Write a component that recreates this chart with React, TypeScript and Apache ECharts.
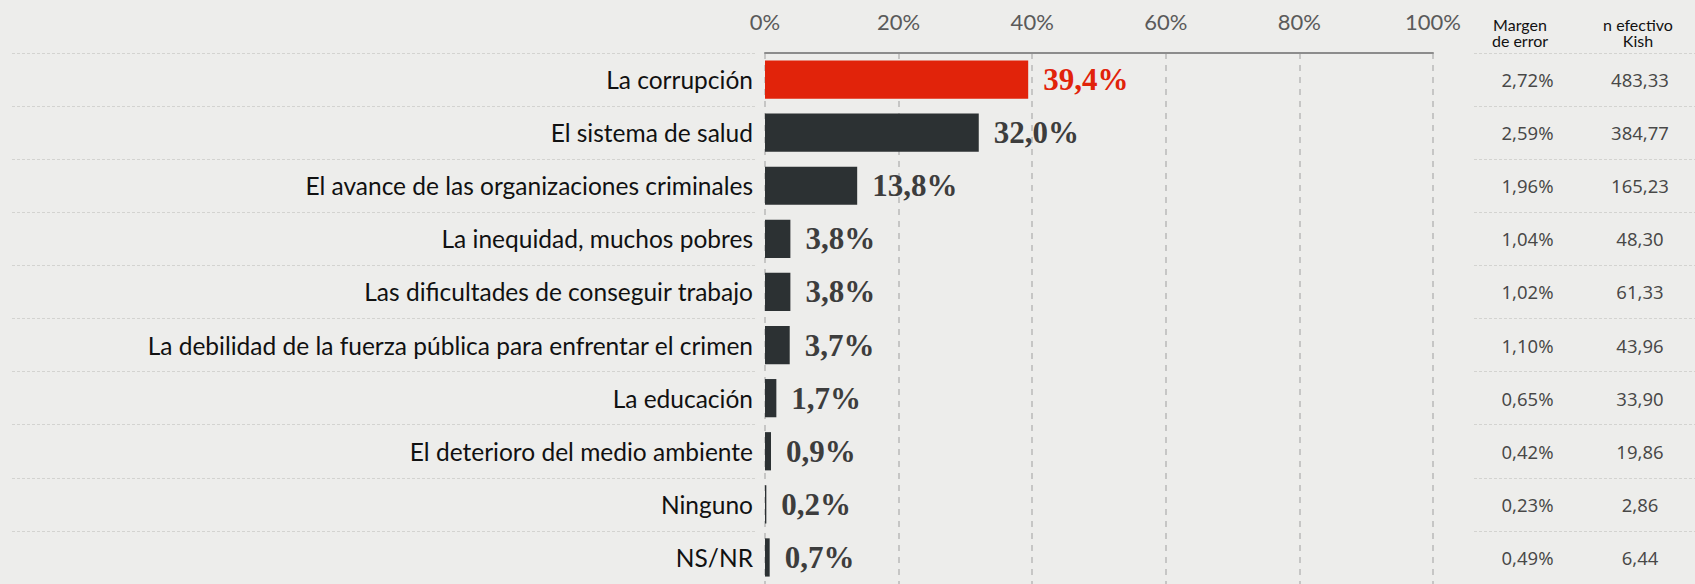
import React, { useEffect, useRef } from "react";
import * as echarts from "echarts";

const categories = [
  "La corrupción",
  "El sistema de salud",
  "El avance de las organizaciones criminales",
  "La inequidad, muchos pobres",
  "Las dificultades de conseguir trabajo",
  "La debilidad de la fuerza pública para enfrentar el crimen",
  "La educación",
  "El deterioro del medio ambiente",
  "Ninguno",
  "NS/NR",
];
const values = [39.4, 32.0, 13.8, 3.8, 3.8, 3.7, 1.7, 0.9, 0.2, 0.7];
const margenError = ["2,72%", "2,59%", "1,96%", "1,04%", "1,02%", "1,10%", "0,65%", "0,42%", "0,23%", "0,49%"];
const nKish = ["483,33", "384,77", "165,23", "48,30", "61,33", "43,96", "33,90", "19,86", "2,86", "6,44"];
const xTicks = [0, 20, 40, 60, 80, 100];
const headerMargen = ["Margen", "de error"];
const headerKish = ["n efectivo", "Kish"];

const RED = "#e1230a";
const DARK = "#2c3133";
const SANS = "Lato, 'Noto Sans', sans-serif";
const SERIF = "'Liberation Serif', 'DejaVu Serif', serif";
const TABLE = "'Noto Sans', 'Open Sans', sans-serif";

export default function App() {
  const ref = useRef<HTMLDivElement>(null);
  useEffect(() => {
    document.body.style.margin = "0";
    const chart = echarts.init(ref.current!, null, { renderer: "svg" });
    const TOP = 53;
    const sepLine = { show: true, lineStyle: { color: "#d3d3d0", type: [3, 2], width: 1 } };
    const hiddenCat = (gridIndex: number) => ({
      type: "category",
      gridIndex,
      inverse: true,
      data: categories,
      axisLine: { show: false },
      axisTick: { show: false },
      axisLabel: { show: false },
      splitLine: sepLine,
    });
    const hiddenVal = (gridIndex: number) => ({
      type: "value",
      gridIndex,
      min: 0,
      max: 1,
      show: false,
      splitLine: { show: false },
    });
    const tableSeries = (gridIndex: number, texts: string[]) => ({
      type: "scatter",
      xAxisIndex: gridIndex,
      yAxisIndex: gridIndex,
      symbolSize: 1,
      itemStyle: { color: "rgba(0,0,0,0)" },
      silent: true,
      data: texts.map((t, i) => ({ value: [0.5, i], name: t })),
      label: {
        show: true,
        position: "inside",
        formatter: (p: any) => p.name,
        color: "#1a1a1a",
        fontSize: 18.5,
        fontFamily: TABLE,
      },
    });
    const headerLines = (x: number, lines: string[]) =>
      lines.map((text, i) => ({
        type: "text",
        x,
        y: 24 + i * 16,
        style: {
          text,
          align: "center",
          verticalAlign: "middle",
          fill: "#111",
          fontSize: 16,
          fontFamily: SANS,
        },
      }));
    chart.setOption({
      animation: false,
      backgroundColor: "#ededeb",
      grid: [
        { left: 765, right: 262, top: TOP, bottom: 0, containLabel: false },
        { left: 12, width: 744, top: TOP, bottom: 0 },
        { left: 1480, width: 95, top: TOP, bottom: 0 },
        { left: 1590, width: 100, top: TOP, bottom: 0 },
        { left: 1474, right: 0, top: TOP, bottom: 0 },
      ],
      xAxis: [
        {
          type: "value",
          gridIndex: 0,
          position: "top",
          min: 0,
          max: 100,
          interval: 20,
          axisLine: { show: true, lineStyle: { color: "#8c8c8c", width: 2 } },
          axisTick: { show: false },
          axisLabel: {
            formatter: (v: number) => (xTicks.includes(v) ? v + "%" : ""),
            color: "#5a5a5a",
            fontSize: 22,
            fontFamily: SANS,
            margin: 21,
          },
          splitLine: { show: true, lineStyle: { color: "#b9b9b9", type: [6, 6], width: 1.5 } },
        },
        hiddenVal(1),
        hiddenVal(2),
        hiddenVal(3),
        hiddenVal(4),
      ],
      yAxis: [
        {
          type: "category",
          gridIndex: 0,
          inverse: true,
          data: categories,
          axisLine: { show: false },
          axisTick: { show: false },
          axisLabel: { color: "#111", fontSize: 24.5, fontFamily: SANS, margin: 12 },
          splitLine: { show: false },
        },
        hiddenCat(1),
        { ...hiddenCat(2), splitLine: { show: false } },
        { ...hiddenCat(3), splitLine: { show: false } },
        hiddenCat(4),
      ],
      graphic: [...headerLines(1520, headerMargen), ...headerLines(1638, headerKish)],
      series: [
        {
          type: "bar",
          xAxisIndex: 0,
          yAxisIndex: 0,
          barCategoryGap: "28%",
          data: values.map((v, i) => ({
            value: v,
            itemStyle: { color: i === 0 ? RED : DARK },
            label: { color: i === 0 ? RED : "#3d3d3d" },
          })),
          label: {
            show: true,
            position: "right",
            distance: 15,
            formatter: (p: any) => p.value.toFixed(1).replace(".", ",") + "%",
            fontSize: 31,
            fontWeight: "bold",
            fontFamily: SERIF,
          },
        },
        tableSeries(2, margenError),
        tableSeries(3, nKish),
      ],
    });
    return () => chart.dispose();
  }, []);
  return (
    <div
      ref={ref}
      style={{ position: "absolute", left: 0, top: 0, width: 1695, height: 584 }}
    />
  );
}
